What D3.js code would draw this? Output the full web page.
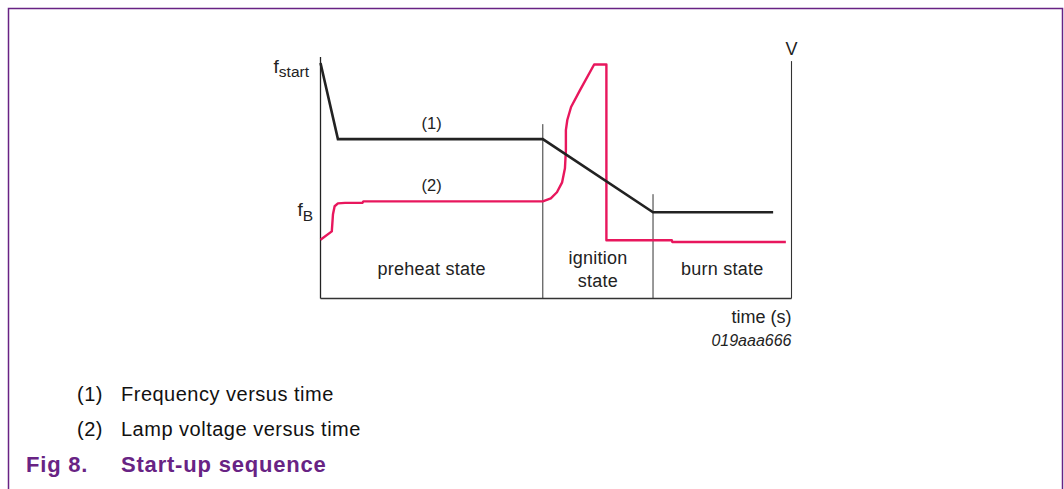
<!DOCTYPE html>
<html>
<head>
<meta charset="utf-8">
<script src="https://cdn.jsdelivr.net/npm/d3@7"></script>
<style>
  body { margin: 0; background: #fff; }
  text { font-family: "Liberation Sans", Arial, sans-serif; }
</style>
</head>
<body>
<div id="chart"></div>
<script>
// time in arbitrary units (0..100), level in arbitrary units (0..100)
const freqTime  = [0, 3.7, 47.2, 70.6, 96.1];
const freqLevel = [97.5, 66.0, 66.0, 35.7, 35.7];

const voltTime  = [0, 2.4, 2.65, 3.0, 3.7, 5.2, 8.9, 9.1, 47.2, 48.9, 50.2, 51.3, 51.9, 52.1, 52.1, 52.4, 53.2, 55.1, 58.1, 60.7, 60.7, 74.6, 74.7, 98.8];
const voltLevel = [24.3, 27.8, 34.9, 38.2, 39.4, 39.6, 39.6, 40.2, 40.2, 41.5, 44.0, 48.1, 53.9, 61.4, 69.7, 73.9, 79.3, 86.3, 96.9, 96.9, 24.1, 24.1, 23.4, 23.4];

const phaseBounds = [0, 47.2, 70.6, 100];
const phaseNames  = [["preheat state"], ["ignition", "state"], ["burn state"]];
const dividerTops = [72.2, 43.2];

const legendKeys  = ["(1)", "(2)"];
const legendTexts = ["Frequency versus time", "Lamp voltage versus time"];

function createChart() {
    const width = 1064, height = 489;
    const purple = "#682384";

    const svg = d3.select("#chart").append("svg")
        .attr("width", width)
        .attr("height", height);

    // frame
    svg.append("path")
        .attr("d", "M8.5," + height + "V8.5H1062.5V" + height)
        .attr("fill", "none")
        .attr("stroke", purple)
        .attr("stroke-width", 1.5);

    const x = d3.scaleLinear().domain([0, 100]).range([320.5, 791.5]);
    const y = d3.scaleLinear().domain([0, 100]).range([298.5, 57]);

    const g = svg.append("g");

    // axes: left, bottom, right
    g.append("line")
        .attr("x1", x(0)).attr("x2", x(0)).attr("y1", y(0)).attr("y2", y(100))
        .attr("stroke", "#222").attr("stroke-width", 1.3);
    g.append("line")
        .attr("x1", x(0)).attr("x2", x(100)).attr("y1", y(0)).attr("y2", y(0))
        .attr("stroke", "#333").attr("stroke-width", 1.3);
    g.append("line")
        .attr("x1", x(100)).attr("x2", x(100)).attr("y1", y(0)).attr("y2", y(98.3))
        .attr("stroke", "#333").attr("stroke-width", 1.1);

    // phase dividers
    g.selectAll(".div")
        .data(dividerTops)
        .enter().append("line")
        .attr("x1", (d, i) => x(phaseBounds[i + 1]))
        .attr("x2", (d, i) => x(phaseBounds[i + 1]))
        .attr("y1", y(0))
        .attr("y2", d => y(d))
        .attr("stroke", "#333").attr("stroke-width", 1);

    const line = d3.line()
        .x(d => x(d[0]))
        .y(d => y(d[1]));

    g.append("path")
        .datum(d3.zip(voltTime, voltLevel))
        .attr("d", line)
        .attr("fill", "none")
        .attr("stroke", "#e8175d")
        .attr("stroke-width", 2.4)
        .attr("stroke-linejoin", "round");

    g.append("path")
        .datum(d3.zip(freqTime, freqLevel))
        .attr("d", line)
        .attr("fill", "none")
        .attr("stroke", "#222")
        .attr("stroke-width", 2.6);

    // phase labels
    phaseNames.forEach(function(lines, i) {
        const cx = (x(phaseBounds[i]) + x(phaseBounds[i + 1])) / 2;
        const t = g.append("text")
            .attr("x", cx)
            .attr("y", lines.length > 1 ? 264 : 275)
            .attr("text-anchor", "middle")
            .attr("font-size", 18)
            .attr("letter-spacing", 0.25)
            .attr("fill", "#222");
        lines.forEach(function(s, k) {
            t.append("tspan").attr("x", cx).attr("dy", k ? 23 : 0).text(s);
        });
    });

    // curve labels
    const midPre = (x(phaseBounds[0]) + x(phaseBounds[1])) / 2;
    g.append("text").attr("x", midPre).attr("y", y(freqLevel[2]) - 10)
        .attr("text-anchor", "middle").attr("font-size", 16.5).attr("fill", "#222").text("(1)");
    g.append("text").attr("x", midPre).attr("y", y(voltLevel[8]) - 10)
        .attr("text-anchor", "middle").attr("font-size", 16.5).attr("fill", "#222").text("(2)");

    // y labels
    const fs = g.append("text").attr("x", 309).attr("y", 73)
        .attr("text-anchor", "end").attr("font-size", 19).attr("fill", "#222");
    fs.append("tspan").text("f");
    fs.append("tspan").attr("font-size", 15.5).attr("dy", 4).text("start");

    const fb = g.append("text").attr("x", 313).attr("y", 216)
        .attr("text-anchor", "end").attr("font-size", 19).attr("fill", "#222");
    fb.append("tspan").text("f");
    fb.append("tspan").attr("font-size", 15.5).attr("dy", 5).text("B");

    g.append("text").attr("x", x(100)).attr("y", 55)
        .attr("text-anchor", "middle").attr("font-size", 18).attr("fill", "#222").text("V");

    g.append("text").attr("x", x(100)).attr("y", 323)
        .attr("text-anchor", "end").attr("font-size", 18).attr("fill", "#222").text("time (s)");
    g.append("text").attr("x", x(100)).attr("y", 346)
        .attr("text-anchor", "end").attr("font-size", 16).attr("font-style", "italic")
        .attr("fill", "#222").text("019aaa666");

    // legend
    const leg = svg.selectAll(".leg")
        .data(legendKeys)
        .enter().append("g")
        .attr("transform", (d, i) => "translate(0," + (401 + i * 34.5) + ")");
    leg.append("text").attr("x", 77).attr("font-size", 20).attr("letter-spacing", 0.5)
        .attr("fill", "#111").text(d => d);
    leg.append("text").attr("x", 121).attr("font-size", 20).attr("letter-spacing", 0.5)
        .attr("fill", "#111").text((d, i) => legendTexts[i]);

    svg.append("text").attr("x", 26).attr("y", 472)
        .attr("font-size", 22).attr("font-weight", "bold").attr("letter-spacing", 0.8)
        .attr("fill", purple).text("Fig 8.");
    svg.append("text").attr("x", 121).attr("y", 472)
        .attr("font-size", 22).attr("font-weight", "bold").attr("letter-spacing", 0.8)
        .attr("fill", purple).text("Start-up sequence");
}

document.addEventListener("DOMContentLoaded", createChart);
</script>
</body>
</html>
